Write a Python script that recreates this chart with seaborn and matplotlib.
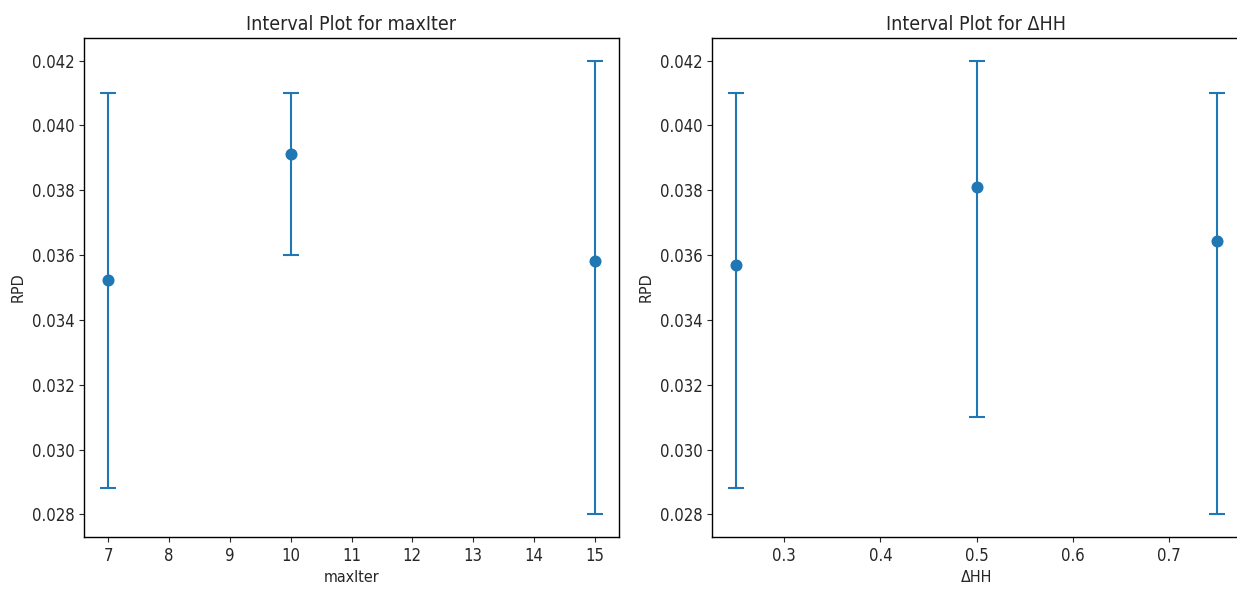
import seaborn as sns
import pandas as pd
import matplotlib.pyplot as plt

# interval data
max_iter = [7, 10, 15]
max_iter_mean = [0.03522, 0.03912, 0.03581]
max_iter_low = [0.0288, 0.0360, 0.0280]
max_iter_high = [0.0410, 0.0410, 0.0420]

dhh = [0.25, 0.5, 0.75]
dhh_mean = [0.03568, 0.03810, 0.03643]
dhh_low = [0.0288, 0.0310, 0.0280]
dhh_high = [0.0410, 0.0420, 0.0410]

sns.set_style('ticks')
plt.rcParams['font.family'] = ['DejaVu Sans']
plt.rcParams['font.stretch'] = 'condensed'

fig = plt.figure(figsize=(12.37, 5.95), dpi=100)
ax1 = fig.add_axes([84 / 1237, 58 / 595, 535 / 1237, 499 / 595])
ax2 = fig.add_axes([712 / 1237, 58 / 595, 529 / 1237, 499 / 595])

panels = [
    (ax1, max_iter, max_iter_mean, max_iter_low, max_iter_high, 'maxIter'),
    (ax2, dhh, dhh_mean, dhh_low, dhh_high, 'ΔHH'),
]
for ax, xs, mean, low, high, name in panels:
    df = pd.DataFrame({name: xs, 'RPD': mean, 'low': low, 'high': high})
    err = [df['RPD'] - df['low'], df['high'] - df['RPD']]
    ax.errorbar(df[name], df['RPD'], yerr=err, fmt='none', ecolor='#1f77b4',
                elinewidth=1.5, capsize=6, capthick=1.5)
    sns.scatterplot(data=df, x=name, y='RPD', ax=ax, color='#1f77b4', s=75,
                    edgecolor='#1f77b4', linewidth=0, zorder=3)
    ax.set_title(f'Interval Plot for {name}', fontsize=14)
    ax.set_xlabel(name, fontsize=11.5)
    ax.set_ylabel('RPD', fontsize=11.5)
    ax.tick_params(labelsize=12)
    ax.set_yticks([0.028, 0.030, 0.032, 0.034, 0.036, 0.038, 0.040, 0.042])
    for s in ax.spines.values():
        s.set_visible(True)
        s.set_color('black')
        s.set_linewidth(1)

ax1.set_xticks(list(range(7, 16)))
ax2.set_xticks([0.3, 0.4, 0.5, 0.6, 0.7])

fig.savefig('out.png', dpi=100)
